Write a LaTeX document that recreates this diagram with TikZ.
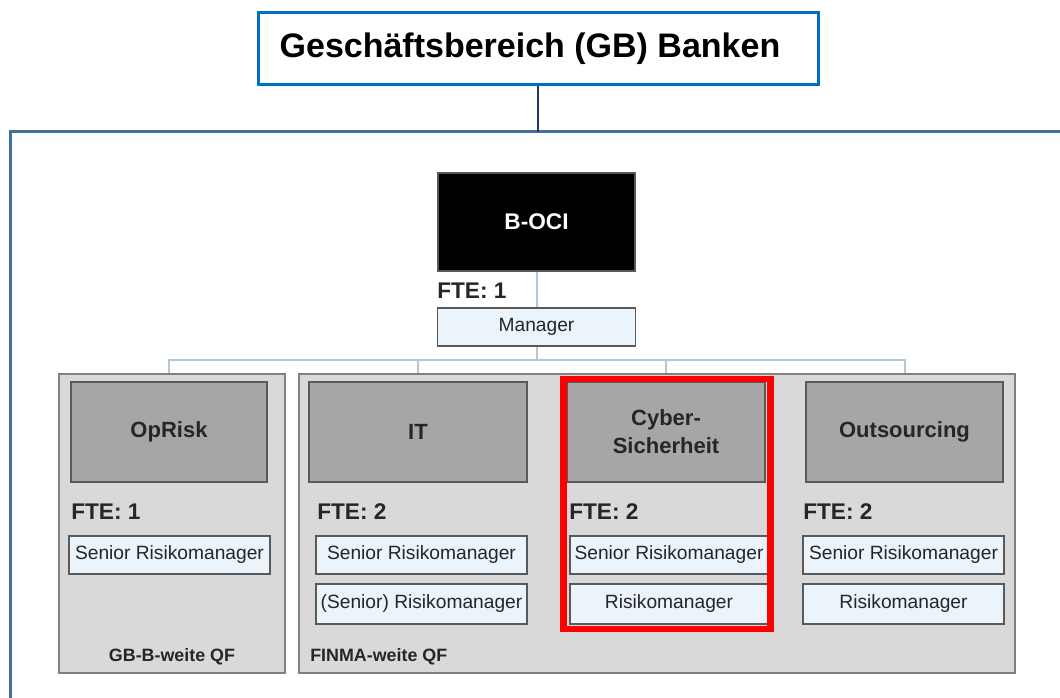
\documentclass[tikz,border=0pt]{standalone}
\usepackage{fontspec}
\setmainfont{Liberation Sans}
\definecolor{titleblue}{HTML}{0070C0}
\definecolor{framecol}{HTML}{41719C}
\definecolor{navy}{HTML}{1F3864}
\definecolor{conncol}{HTML}{B4C7D7}
\definecolor{grpfill}{HTML}{D9D9D9}
\definecolor{grpdraw}{HTML}{808080}
\definecolor{deptfill}{HTML}{A6A6A6}
\definecolor{boxdraw}{HTML}{595959}
\definecolor{rolefill}{HTML}{EBF3FB}
\definecolor{txtdark}{HTML}{262626}
\tikzset{
  sz/.style 2 args={minimum width=#1*0.75pt, minimum height=#2*0.75pt, inner sep=0pt},
  titlebox/.style={draw=titleblue, line width=2.25pt, fill=white, font=\bfseries\fontsize{25.5}{28}\selectfont},
  bocibox/.style={draw=boxdraw, line width=0.8pt, fill=black, text=white, font=\bfseries\fontsize{17}{20}\selectfont},
  grpbox/.style={draw=grpdraw, fill=grpfill, line width=1.1pt},
  deptbox/.style={draw=boxdraw, fill=deptfill, line width=1.1pt, text=txtdark, align=center, font=\bfseries\fontsize{16.5}{21}\selectfont},
  rolebox/.style={draw=boxdraw, fill=rolefill, line width=1.1pt, text=txtdark, font=\fontsize{14.4}{17}\selectfont},
  fte/.style={anchor=west, inner sep=0pt, text=txtdark, font=\bfseries\fontsize{17}{20}\selectfont},
  qf/.style={inner sep=0pt, text=txtdark, font=\bfseries\fontsize{13.4}{16}\selectfont},
  conn/.style={draw=conncol, line width=1.5pt},
}
\begin{document}
\begin{tikzpicture}[x=0.75pt, y=-0.75pt]
\useasboundingbox (0,0) rectangle (1060,698);
% outer frame
\coordinate (fbl) at (10,700);
\coordinate (ftl) at (10,132);
\coordinate (ftr) at (1062,132);
\draw[framecol, line width=2.25pt] (fbl) -- (ftl) -- (ftr);
% title
\node[titlebox, sz={560}{72}] (title) at (538,49) {\kern-12pt Geschäftsbereich (GB) Banken};
\draw[navy, line width=1.6pt] (title.south) -- (title.south |- ftl);
% B-OCI
\node[bocibox, sz={197}{98}] (boci) at (536.5,222) {B-OCI};
\node[fte] (fte0) at (437,291) {FTE: 1};
\node[rolebox, sz={198}{38}] (mgr) at (536.5,327) {Manager};
\draw[conn] (boci.south) -- (mgr.north);
% groups
\node[grpbox, sz={226}{299}] (g1) at (172,523.5) {};
\node[grpbox, sz={716}{299}] (g2) at (657,523.5) {};
% departments
\node[deptbox, sz={196}{100}] (op) at (169,432) {OpRisk};
\node[deptbox, sz={218}{100}] (it) at (418,432) {IT};
\node[deptbox, sz={198}{100}] (cy) at (666,432) {Cyber-\\Sicherheit};
\node[deptbox, sz={197}{100}] (ou) at (904.5,432) {Outsourcing};
% connectors
\coordinate (bus) at (536.5,360);
\draw[conn] (mgr.south) -- (mgr.south |- bus);
\draw[conn] (op.north |- g1.north) -- (op.north |- bus) -- (ou.north |- bus) -- (ou.north |- g2.north);
\draw[conn] (it.north |- bus) -- (it.north |- g2.north);
\draw[conn] (cy.north |- bus) -- (cy.north |- g2.north);
% FTE labels
\node[fte] (fte1) at (71,512) {FTE: 1};
\node[fte] (fte2) at (317,512) {FTE: 2};
\node[fte] (fte3) at (569,512) {FTE: 2};
\node[fte] (fte4) at (803,512) {FTE: 2};
% roles
\node[rolebox, sz={201}{38}] (op1) at (169.5,555) {Senior Risikomanager};
\node[rolebox, sz={211}{38}] (it1) at (421.5,555) {Senior Risikomanager};
\node[rolebox, sz={211}{40}] (it2) at (421.5,604) {(Senior) Risikomanager};
\node[rolebox, sz={198}{38}] (cy1) at (669,555) {Senior Risikomanager};
\node[rolebox, sz={198}{40}] (cy2) at (669,604) {Risikomanager};
\node[rolebox, sz={201}{38}] (ou1) at (903.5,555) {Senior Risikomanager};
\node[rolebox, sz={201}{40}] (ou2) at (903.5,604) {Risikomanager};
% QF labels
\node[qf] (qf1) at (172,657) {GB-B-weite QF};
\node[qf, anchor=west] (qf2) at (310,657) {FINMA-weite QF};
% red highlight
\node[draw=red, line width=4.9pt, sz={207}{250}] (hl) at (667,504) {};
\end{tikzpicture}
\end{document}
